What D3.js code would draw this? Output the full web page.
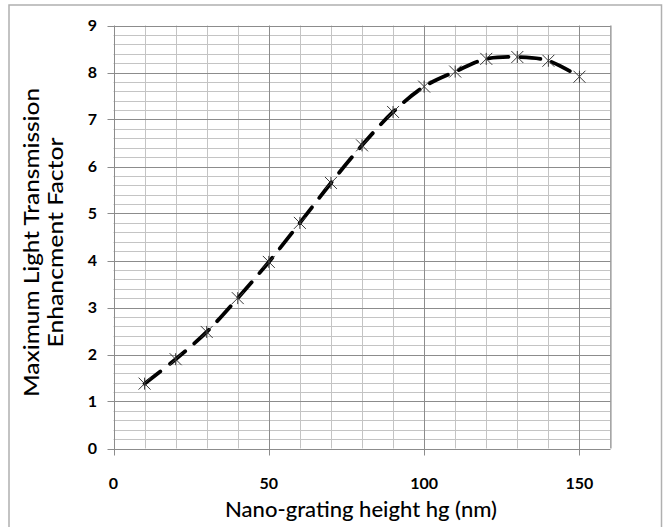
<!DOCTYPE html>
<html>
<head>
<meta charset="utf-8">
<script src="https://cdn.jsdelivr.net/npm/d3@7"></script>
<style>
  html, body { margin: 0; padding: 0; background: #fff; }
  svg { display: block; }
</style>
</head>
<body>
<svg id="chart" width="671" height="527"></svg>
<script>
// ---- data ----
const heights = [10, 20, 30, 40, 50, 60, 70, 80, 90, 100, 110, 120, 130, 140, 150];
const enhancement = [1.38, 1.90, 2.48, 3.20, 3.97, 4.80, 5.65, 6.45, 7.16, 7.70, 8.02, 8.29, 8.33, 8.25, 7.91];
const xTicks = [0, 50, 100, 150];
const yTicks = [0, 1, 2, 3, 4, 5, 6, 7, 8, 9];
const xTitle = "Nano-grating height hg (nm)";
const yTitleLines = ["Maximum Light Transmission", "Enhancment Factor"];

(function () {
const svg = d3.select("#chart");

// outer frame
svg.append("rect").attr("x", 9).attr("y", 5).attr("width", 652.5).attr("height", 530)
  .attr("fill", "#fff").attr("stroke", "#b0b0b0").attr("stroke-width", 1.5);

const pLeft = 113.5, pRight = 610.5, pTop = 25.5, pBottom = 448.5;
const x = d3.scaleLinear().domain([0, 160]).range([pLeft, pRight]);
const y = d3.scaleLinear().domain([0, 9]).range([pBottom, pTop]);

const g = svg.append("g");

// minor horizontal gridlines (every 0.2)
const minorY = d3.range(0, 9.0001, 0.2).filter(v => Math.abs(v - Math.round(v)) > 1e-6);
g.selectAll("line.hmin").data(minorY).enter().append("line")
  .attr("x1", pLeft).attr("x2", pRight)
  .attr("y1", d => Math.round(y(d)) + 0.5).attr("y2", d => Math.round(y(d)) + 0.5)
  .attr("stroke", "#c4c4c4").attr("stroke-width", 1);

// minor vertical gridlines (every 10)
const minorX = d3.range(10, 161, 10).filter(v => v % 50 !== 0);
g.selectAll("line.vmin").data(minorX).enter().append("line")
  .attr("y1", pTop).attr("y2", pBottom)
  .attr("x1", d => Math.round(x(d)) + 0.5).attr("x2", d => Math.round(x(d)) + 0.5)
  .attr("stroke", "#c4c4c4").attr("stroke-width", 1);

// right border of plot area
g.append("line").attr("x1", pRight).attr("x2", pRight).attr("y1", pTop).attr("y2", pBottom)
  .attr("stroke", "#a6a6a6").attr("stroke-width", 1);

// major horizontal gridlines (integers) with outside ticks
g.selectAll("line.hmaj").data(yTicks).enter().append("line")
  .attr("x1", pLeft - 6).attr("x2", pRight)
  .attr("y1", d => Math.round(y(d)) + 0.5).attr("y2", d => Math.round(y(d)) + 0.5)
  .attr("stroke", "#8c8c8c").attr("stroke-width", 1);

// major vertical gridlines (every 50) with outside ticks
g.selectAll("line.vmaj").data(xTicks).enter().append("line")
  .attr("y1", pTop).attr("y2", pBottom + 7)
  .attr("x1", d => Math.round(x(d)) + 0.5).attr("x2", d => Math.round(x(d)) + 0.5)
  .attr("stroke", "#8c8c8c").attr("stroke-width", 1);

// tick labels
const tickFont = "Lato, 'Open Sans', sans-serif";
g.selectAll("text.yt").data(yTicks).enter().append("text")
  .attr("x", 97).attr("y", d => y(d)).attr("dy", "0.36em")
  .attr("text-anchor", "end").attr("font-family", tickFont)
  .attr("font-weight", "bold").attr("font-size", 16).attr("fill", "#000")
  .text(d => d);

g.selectAll("text.xt").data(xTicks).enter().append("text")
  .attr("x", d => x(d)).attr("y", 488.5)
  .attr("text-anchor", "middle").attr("font-family", tickFont)
  .attr("font-weight", "bold").attr("font-size", 16).attr("fill", "#000")
  .text(d => d);

const titleFont = "Lato, 'Open Sans', sans-serif";
svg.append("text").attr("x", 361).attr("y", 517)
  .attr("text-anchor", "middle").attr("font-family", titleFont).attr("fill", "#000")
  .attr("font-size", 20.5).attr("font-weight", 500)
  .attr("textLength", 272).attr("lengthAdjust", "spacingAndGlyphs")
  .text(xTitle);

const yBaselines = [38.5, 62.5];
const yLens = [309, 210];
yTitleLines.forEach((t, i) => {
  svg.append("text")
    .attr("transform", `translate(${yBaselines[i]},242.5) rotate(-90)`)
    .attr("text-anchor", "middle").attr("font-family", titleFont).attr("fill", "#000")
    .attr("font-size", 21).attr("font-weight", 500)
    .attr("textLength", yLens[i]).attr("lengthAdjust", "spacingAndGlyphs")
    .text(t);
});

// data line
const pts = heights.map((h, i) => [h, enhancement[i]]);
const line = d3.line().x(d => x(d[0])).y(d => y(d[1])).curve(d3.curveCatmullRom.alpha(0.5));
g.append("path").datum(pts).attr("d", line)
  .attr("fill", "none").attr("stroke", "#000").attr("stroke-width", 3.8)
  .attr("stroke-dasharray", "20,12").attr("stroke-linecap", "round");

// star markers
const s = 6;
const mk = g.selectAll("g.mk").data(pts).enter().append("g")
  .attr("transform", d => `translate(${x(d[0])},${y(d[1])})`)
  .attr("stroke", "#3a3a3a").attr("stroke-width", 1);
mk.append("line").attr("x1", -s).attr("y1", -s).attr("x2", s).attr("y2", s);
mk.append("line").attr("x1", -s).attr("y1", s).attr("x2", s).attr("y2", -s);
mk.append("line").attr("x1", 0).attr("y1", -s).attr("x2", 0).attr("y2", s);
})();
</script>
</body>
</html>
